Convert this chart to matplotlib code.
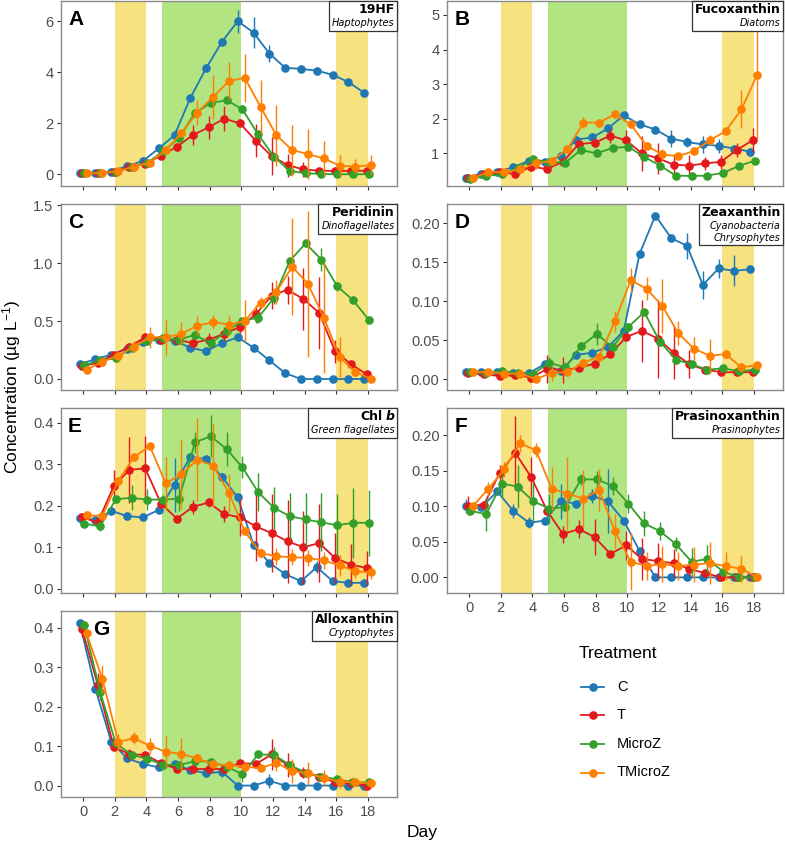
import matplotlib
matplotlib.use('Agg')
import matplotlib.pyplot as plt
from matplotlib.patches import Rectangle
from matplotlib.lines import Line2D
import numpy as np

plt.rcParams['font.family'] = ['Liberation Sans', 'DejaVu Sans']
plt.rcParams['mathtext.default'] = 'regular'

# ---------------- data ----------------
days = list(range(19))
treatments = ['C', 'T', 'MicroZ', 'TMicroZ']
colors = ['#1F78B4', '#E31A1C', '#33A02C', '#FF7F00']
dodge = [-0.22, -0.07, 0.07, 0.22]
xticks = [0, 2, 4, 6, 8, 10, 12, 14, 16, 18]

# A: 19HF
hf_C = [0.03,0.05,0.10,0.32,0.52,1.01,1.53,2.99,4.16,5.19,6.00,5.55,4.73,4.17,4.13,4.06,3.90,3.61,3.19]
hf_C_se = [0.02,0.02,0.03,0.05,0.05,0.08,0.22,0.1,0.1,0.1,0.45,0.6,0.35,0.1,0.12,0.1,0.1,0.1,0.1]
hf_T = [0.03,0.05,0.10,0.28,0.40,0.73,1.08,1.53,1.84,2.18,1.99,1.31,0.71,0.36,0.19,0.14,0.13,0.13,0.14]
hf_T_se = [0.02,0.02,0.03,0.05,0.08,0.1,0.15,0.4,0.45,0.5,0.08,0.65,0.75,0.45,0.3,0.1,0.1,0.08,0.1]
hf_M = [0.03,0.05,0.10,0.28,0.45,0.90,1.43,2.40,2.79,2.90,2.55,1.56,0.69,0.13,0.04,0.01,0.0,0.0,0.0]
hf_M_se = [0.02,0.02,0.03,0.05,0.05,0.08,0.1,0.1,0.1,0.1,0.15,0.1,0.1,0.05,0.02,0.01,0.01,0.01,0.01]
hf_TM = [0.03,0.05,0.12,0.30,0.45,0.95,1.60,2.42,3.03,3.65,3.78,2.64,1.53,0.95,0.79,0.62,0.34,0.30,0.36]
hf_TM_se = [0.02,0.02,0.03,0.05,0.08,0.1,0.1,0.5,0.85,0.75,0.95,1.05,1.2,1.0,0.97,0.7,0.4,0.28,0.38]

# B: Fucoxanthin
fu_C = [0.30,0.41,0.47,0.60,0.79,0.74,0.93,1.40,1.46,1.72,2.10,1.84,1.69,1.43,1.33,1.26,1.22,1.14,1.05]
fu_C_se = [0.03,0.04,0.04,0.05,0.05,0.06,0.07,0.08,0.07,0.08,0.05,0.09,0.09,0.25,0.15,0.25,0.2,0.1,0.12]
fu_T = [0.30,0.40,0.45,0.41,0.62,0.55,0.76,1.27,1.31,1.51,1.38,1.00,0.86,0.68,0.65,0.71,0.76,1.10,1.38]
fu_T_se = [0.03,0.04,0.04,0.05,0.06,0.06,0.07,0.1,0.12,0.2,0.3,0.5,0.45,0.3,0.3,0.2,0.2,0.2,0.35]
fu_M = [0.27,0.35,0.40,0.58,0.83,0.75,0.73,1.10,1.00,1.16,1.19,0.90,0.65,0.36,0.35,0.36,0.44,0.64,0.79]
fu_M_se = [0.02,0.03,0.03,0.04,0.05,0.05,0.05,0.05,0.05,0.06,0.08,0.06,0.05,0.03,0.03,0.03,0.04,0.04,0.05]
fu_TM = [0.28,0.47,0.45,0.55,0.71,0.79,1.12,1.89,1.89,2.13,1.84,1.22,0.97,0.92,1.07,1.38,1.64,2.27,3.27]
fu_TM_se = [0.03,0.04,0.05,0.15,0.15,0.08,0.08,0.15,0.06,0.06,0.08,0.08,0.15,0.1,0.1,0.15,0.08,0.55,1.85]

# C: Peridinin
pe_C = [0.13,0.17,0.21,0.26,0.32,0.34,0.33,0.27,0.24,0.31,0.36,0.27,0.16,0.05,0.0,0.0,0.0,0.0,0.0]
pe_C_se = [0.02,0.01,0.02,0.02,0.02,0.03,0.02,0.02,0.02,0.03,0.01,0.03,0.01,0.03,0.0,0.0,0.0,0.0,0.01]
pe_T = [0.11,0.14,0.21,0.28,0.36,0.34,0.34,0.31,0.34,0.39,0.45,0.56,0.72,0.77,0.69,0.57,0.24,0.13,0.04]
pe_T_se = [0.02,0.02,0.02,0.03,0.03,0.04,0.04,0.04,0.06,0.06,0.05,0.08,0.12,0.12,0.27,0.31,0.1,0.03,0.03]
pe_M = [0.12,0.16,0.18,0.27,0.33,0.35,0.34,0.38,0.31,0.41,0.50,0.53,0.70,1.02,1.17,1.03,0.80,0.68,0.51]
pe_M_se = [0.01,0.01,0.02,0.02,0.02,0.02,0.02,0.03,0.02,0.03,0.03,0.05,0.05,0.03,0.03,0.1,0.04,0.02,0.02]
pe_TM = [0.08,0.15,0.20,0.28,0.36,0.36,0.39,0.46,0.49,0.47,0.50,0.66,0.75,0.97,0.82,0.53,0.19,0.06,0.0]
pe_TM_se = [0.02,0.02,0.02,0.05,0.09,0.15,0.1,0.08,0.06,0.08,0.18,0.05,0.1,0.42,0.63,0.48,0.17,0.03,0.01]

# D: Zeaxanthin
ze_C = [0.0094,0.009,0.0086,0.008,0.008,0.019,0.010,0.031,0.034,0.041,0.062,0.161,0.210,0.181,0.171,0.121,0.142,0.139,0.141]
ze_C_se = [0.001,0.001,0.001,0.001,0.001,0.003,0.002,0.003,0.003,0.004,0.004,0.003,0.003,0.004,0.017,0.018,0.012,0.02,0.004]
ze_T = [0.008,0.006,0.004,0.005,0.002,0.013,0.012,0.014,0.020,0.032,0.054,0.062,0.052,0.034,0.019,0.012,0.009,0.0086,0.009]
ze_T_se = [0.001,0.001,0.001,0.001,0.001,0.018,0.017,0.003,0.003,0.003,0.004,0.04,0.05,0.034,0.018,0.003,0.002,0.002,0.002]
ze_M = [0.009,0.008,0.010,0.008,0.007,0.021,0.015,0.042,0.058,0.041,0.067,0.086,0.048,0.025,0.019,0.012,0.014,0.010,0.012]
ze_M_se = [0.001,0.001,0.001,0.001,0.001,0.008,0.003,0.004,0.014,0.004,0.005,0.004,0.003,0.003,0.003,0.003,0.002,0.002,0.002]
ze_TM = [0.009,0.009,0.007,0.007,0.0,0.008,0.009,0.021,0.029,0.074,0.127,0.116,0.094,0.059,0.039,0.030,0.032,0.015,0.018]
ze_TM_se = [0.001,0.001,0.001,0.004,0.003,0.01,0.004,0.003,0.004,0.014,0.015,0.015,0.035,0.015,0.015,0.022,0.005,0.003,0.002]

# E: Chl b
cb_C = [0.171,0.165,0.188,0.175,0.172,0.190,0.251,0.318,0.313,0.270,0.220,0.106,0.062,0.035,0.018,0.052,0.018,0.014,0.014]
cb_C_se = [0.012,0.008,0.006,0.01,0.006,0.006,0.065,0.01,0.008,0.008,0.008,0.01,0.008,0.008,0.004,0.015,0.004,0.003,0.003]
cb_T = [0.172,0.160,0.247,0.287,0.290,0.205,0.169,0.197,0.208,0.180,0.172,0.150,0.134,0.114,0.100,0.110,0.074,0.058,0.050]
cb_T_se = [0.01,0.01,0.04,0.08,0.078,0.01,0.006,0.018,0.01,0.02,0.045,0.083,0.095,0.1,0.088,0.095,0.06,0.05,0.04]
cb_M = [0.157,0.150,0.216,0.219,0.215,0.215,0.217,0.353,0.368,0.337,0.293,0.233,0.195,0.175,0.167,0.160,0.153,0.159,0.159]
cb_M_se = [0.006,0.01,0.01,0.03,0.025,0.01,0.03,0.025,0.05,0.04,0.027,0.045,0.05,0.055,0.065,0.07,0.075,0.085,0.08]
cb_TM = [0.177,0.176,0.260,0.318,0.344,0.254,0.277,0.311,0.297,0.231,0.138,0.086,0.078,0.076,0.074,0.068,0.056,0.042,0.039]
cb_TM_se = [0.005,0.005,0.008,0.01,0.005,0.063,0.085,0.1,0.1,0.045,0.008,0.012,0.02,0.02,0.02,0.02,0.025,0.016,0.015]

# F: Prasinoxanthin
pr_C = [0.101,0.099,0.121,0.094,0.077,0.080,0.107,0.104,0.115,0.107,0.080,0.037,0.0,0.0,0.0,0.0,0.0,0.0,0.0]
pr_C_se = [0.01,0.003,0.004,0.01,0.008,0.003,0.025,0.003,0.01,0.045,0.004,0.003,0.002,0.002,0.002,0.002,0.002,0.002,0.002]
pr_T = [0.101,0.102,0.147,0.175,0.141,0.094,0.061,0.068,0.057,0.033,0.045,0.026,0.023,0.020,0.012,0.006,0.0,0.0,0.0]
pr_T_se = [0.013,0.003,0.012,0.052,0.028,0.003,0.012,0.013,0.025,0.003,0.02,0.03,0.025,0.02,0.01,0.004,0.002,0.002,0.002]
pr_M = [0.094,0.089,0.132,0.128,0.107,0.097,0.099,0.138,0.138,0.129,0.104,0.076,0.065,0.047,0.022,0.026,0.008,0.0,0.0]
pr_M_se = [0.004,0.023,0.02,0.03,0.027,0.02,0.004,0.008,0.012,0.013,0.013,0.018,0.013,0.01,0.02,0.02,0.005,0.002,0.002]
pr_TM = [0.100,0.125,0.152,0.189,0.179,0.125,0.118,0.111,0.123,0.065,0.022,0.016,0.019,0.016,0.018,0.020,0.016,0.012,0.0]
pr_TM_se = [0.003,0.01,0.01,0.012,0.01,0.03,0.052,0.04,0.03,0.024,0.04,0.02,0.025,0.02,0.025,0.03,0.02,0.018,0.002]

# G: Alloxanthin
al_C = [0.413,0.245,0.111,0.069,0.055,0.046,0.054,0.040,0.031,0.035,0.0,0.0,0.012,0.0,0.0,0.0,0.0,0.0,0.0]
al_C_se = [0.005,0.01,0.004,0.004,0.004,0.004,0.004,0.003,0.003,0.012,0.002,0.002,0.018,0.002,0.002,0.002,0.002,0.002,0.002]
al_T = [0.398,0.255,0.099,0.079,0.078,0.057,0.042,0.042,0.042,0.042,0.057,0.055,0.079,0.052,0.033,0.023,0.008,0.006,0.0]
al_T_se = [0.02,0.03,0.004,0.015,0.006,0.005,0.004,0.004,0.004,0.004,0.006,0.006,0.04,0.03,0.015,0.006,0.004,0.003,0.002]
al_M = [0.407,0.238,0.107,0.078,0.068,0.052,0.052,0.062,0.061,0.048,0.029,0.079,0.078,0.052,0.033,0.023,0.016,0.008,0.008]
al_M_se = [0.005,0.02,0.005,0.005,0.005,0.005,0.005,0.006,0.008,0.005,0.02,0.005,0.02,0.006,0.005,0.004,0.004,0.003,0.003]
al_TM = [0.386,0.270,0.111,0.120,0.101,0.086,0.080,0.069,0.054,0.052,0.048,0.044,0.058,0.037,0.031,0.019,0.010,0.008,0.006]
al_TM_se = [0.005,0.035,0.02,0.015,0.02,0.04,0.04,0.01,0.005,0.005,0.005,0.005,0.02,0.03,0.03,0.02,0.015,0.008,0.01]

# shaded periods (days)
yellow_periods = [(2, 4), (16, 18)]
green_periods = [(5, 10)]

# ---------------- figure ----------------
W, H = 785, 843
fig = plt.figure(figsize=(W / 100, H / 100), dpi=100)


def add_ax(l, t, r, b):
    return fig.add_axes([l / W, 1 - b / H, (r - l) / W, (b - t) / H])


COLS = [(61, 397), (447, 783)]
ROWS = [(1, 186), (204, 390), (408, 593), (611, 797)]

panels = [
    dict(letter='A', title='19HF', subs=['Haptophytes'], col=0, row=0,
         series=[(hf_C, hf_C_se), (hf_T, hf_T_se), (hf_M, hf_M_se), (hf_TM, hf_TM_se)],
         ylim=(-0.46, 6.79), yticks=[0, 2, 4, 6], fmt='{:.0f}', xlab=False, lx=7),
    dict(letter='B', title='Fucoxanthin', subs=['Diatoms'], col=1, row=0,
         series=[(fu_C, fu_C_se), (fu_T, fu_T_se), (fu_M, fu_M_se), (fu_TM, fu_TM_se)],
         ylim=(0.06, 5.40), yticks=[1, 2, 3, 4, 5], fmt='{:.0f}', xlab=False, lx=8),
    dict(letter='C', title='Peridinin', subs=['Dinoflagellates'], col=0, row=1,
         series=[(pe_C, pe_C_se), (pe_T, pe_T_se), (pe_M, pe_M_se), (pe_TM, pe_TM_se)],
         ylim=(-0.095, 1.51), yticks=[0, 0.5, 1.0, 1.5], fmt='{:.1f}', xlab=False, lx=7),
    dict(letter='D', title='Zeaxanthin', subs=['Cyanobacteria', 'Chrysophytes'], col=1, row=1,
         series=[(ze_C, ze_C_se), (ze_T, ze_T_se), (ze_M, ze_M_se), (ze_TM, ze_TM_se)],
         ylim=(-0.014, 0.2248), yticks=[0, 0.05, 0.10, 0.15, 0.20], fmt='{:.2f}', xlab=False, lx=8),
    dict(letter='E', title='Chl b', subs=['Green flagellates'], col=0, row=2,
         series=[(cb_C, cb_C_se), (cb_T, cb_T_se), (cb_M, cb_M_se), (cb_TM, cb_TM_se)],
         ylim=(-0.0105, 0.436), yticks=[0, 0.1, 0.2, 0.3, 0.4], fmt='{:.1f}', xlab=False, lx=7),
    dict(letter='F', title='Prasinoxanthin', subs=['Prasinophytes'], col=1, row=2,
         series=[(pr_C, pr_C_se), (pr_T, pr_T_se), (pr_M, pr_M_se), (pr_TM, pr_TM_se)],
         ylim=(-0.022, 0.2386), yticks=[0, 0.05, 0.10, 0.15, 0.20], fmt='{:.2f}', xlab=True, lx=8),
    dict(letter='G', title='Alloxanthin', subs=['Cryptophytes'], col=0, row=3,
         series=[(al_C, al_C_se), (al_T, al_T_se), (al_M, al_M_se), (al_TM, al_TM_se)],
         ylim=(-0.029, 0.443), yticks=[0, 0.1, 0.2, 0.3, 0.4], fmt='{:.1f}', xlab=True, lx=32),
]

PX = 0.72  # points per pixel at 100 dpi
box_items = []

for p in panels:
    l, r = COLS[p['col']]
    t, b = ROWS[p['row']]
    ax = add_ax(l, t, r, b)
    for (a, z) in yellow_periods:
        ax.axvspan(a, z, color='#F6E27F', lw=0, zorder=0)
    for (a, z) in green_periods:
        ax.axvspan(a, z, color='#B3E482', lw=0, zorder=0)
    for i, (vals, errs) in enumerate(p['series']):
        x = np.array(days) + dodge[i]
        ax.errorbar(x, vals, yerr=errs, color=colors[i], lw=1.3, marker='o', ms=6.2,
                    mew=0, capsize=1.8, capthick=1.0, elinewidth=1.0, zorder=2 + i)
    ax.set_xlim(-1.4, 19.85)
    ax.set_ylim(*p['ylim'])
    ax.set_xticks(xticks)
    ax.set_yticks(p['yticks'])
    ax.set_yticklabels([p['fmt'].format(v) for v in p['yticks']])
    if p['xlab']:
        ax.set_xticklabels([str(v) for v in xticks])
    else:
        ax.set_xticklabels([])
    ax.tick_params(direction='out', length=3.2, width=0.8, color='#333333',
                   labelcolor='#4D4D4D', labelsize=10.5, pad=2.2)
    for s in ax.spines.values():
        s.set_color('#8A8A8A')
        s.set_linewidth(1.0)
    ax.annotate(p['letter'], xy=(0, 1), xycoords='axes fraction',
                xytext=(p['lx'] * PX, -9 * PX), textcoords='offset points',
                ha='left', va='top', fontsize=15, fontweight='bold', zorder=20)
    texts = []
    if p['title'] == 'Chl b':
        tb = ax.annotate('b', xy=(1, 1), xycoords='axes fraction',
                         xytext=(-2 * PX, -12 * PX), textcoords='offset points',
                         ha='right', va='baseline', fontsize=9, fontweight='bold',
                         fontstyle='italic', family='DejaVu Sans', zorder=21)
        rend = fig.canvas.get_renderer()
        wb = tb.get_window_extent(rend).width
        tc = ax.annotate('Chl', xy=(1, 1), xycoords='axes fraction',
                         xytext=(-(2 + wb + 3.5) * PX, -12 * PX), textcoords='offset points',
                         ha='right', va='baseline', fontsize=9, fontweight='bold',
                         family='DejaVu Sans', zorder=21)
        texts += [tb, tc]
    else:
        tt = ax.annotate(p['title'], xy=(1, 1), xycoords='axes fraction',
                         xytext=(-2 * PX, -12 * PX), textcoords='offset points',
                         ha='right', va='baseline', fontsize=9, fontweight='bold',
                         family='DejaVu Sans', zorder=21)
        texts.append(tt)
    for k, s in enumerate(p['subs']):
        ts = ax.annotate(s, xy=(1, 1), xycoords='axes fraction',
                         xytext=(-2.5 * PX, -(25 + 11.7 * k) * PX), textcoords='offset points',
                         ha='right', va='baseline', fontsize=7, fontstyle='italic',
                         family='DejaVu Sans', zorder=21)
        texts.append(ts)
    box_items.append((ax, texts))

fig.canvas.draw()
rend = fig.canvas.get_renderer()
for ax, texts in box_items:
    exts = [t.get_window_extent(rend) for t in texts]
    x0 = min(e.x0 for e in exts) - 3
    y0 = min(e.y0 for e in exts) - 2.5
    inv = ax.transAxes.inverted()
    (ax0, ay0) = inv.transform((x0, y0))
    rect = Rectangle((ax0, ay0), 1 - ax0, 1 - ay0, transform=ax.transAxes,
                     facecolor='white', edgecolor='#333333', lw=0.9,
                     clip_on=False, zorder=19)
    ax.add_patch(rect)

# axis titles
fig.text(12 / W, 1 - 387 / H, 'Concentration (µg L$^{-1}$)', rotation=90,
         ha='center', va='center', fontsize=12.5, color='black')
fig.text(422 / W, 1 - 833 / H, 'Day', ha='center', va='center', fontsize=12.5, color='black')

# legend (manual)
fig.text(579 / W, 1 - 653 / H, 'Treatment', ha='left', va='center', fontsize=12.5)
leg_y = [687, 715, 744, 772.5]
for i, name in enumerate(treatments):
    yy = 1 - leg_y[i] / H
    fig.add_artist(Line2D([581 / W, 604 / W], [yy, yy], color=colors[i], lw=1.3,
                          transform=fig.transFigure))
    fig.add_artist(Line2D([592.5 / W], [yy], color=colors[i], marker='o', ms=6.2, mew=0,
                          lw=0, transform=fig.transFigure))
    fig.text(617 / W, yy, name, ha='left', va='center', fontsize=10.5)

fig.savefig('out.png', dpi=100)
